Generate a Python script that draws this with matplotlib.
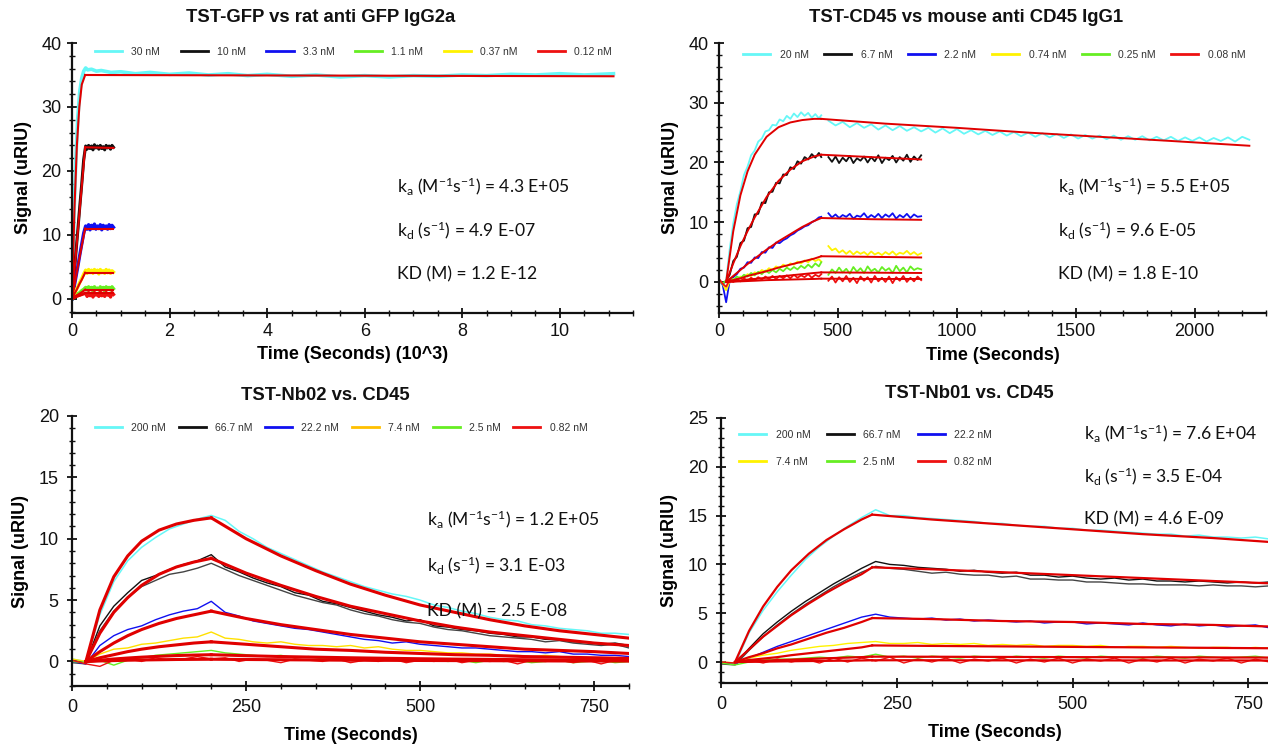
import numpy as np
import matplotlib
matplotlib.use("Agg")
import matplotlib.pyplot as plt
from matplotlib.ticker import MultipleLocator

plt.rcParams['font.family'] = ['Liberation Sans', 'DejaVu Sans']
plt.rcParams['mathtext.default'] = 'regular'

CYAN = '#66F7F7'; BLACK = '#111111'; BLUE = '#1010F0'; GREEN = '#66EE22'
YEL = '#FFF200'; RED = '#EE1111'; FIT = '#E00000'

# ---------------- Panel 1: TST-GFP vs rat anti GFP IgG2a (time in 10^3 s)
p1_labels = ['30 nM', '10 nM', '3.3 nM', '1.1 nM', '0.37 nM', '0.12 nM']
p1_t30 = [0, 0.04, 0.08, 0.12, 0.16, 0.2, 0.24, 0.28, 0.32, 0.4, 0.5, 0.6, 0.8, 1.0, 1.3, 1.6,
          2.0, 2.4, 2.8, 3.2, 3.6, 4.0, 4.5, 5.0, 5.5, 6.0, 6.5, 7.0, 7.5, 8.0, 8.5, 9.0, 9.5,
          10.0, 10.5, 11.1]
p1_d30 = [0, 13, 22, 28.5, 32.5, 34.5, 35.6, 36.1, 35.8, 35.9, 35.6, 35.7, 35.4, 35.5, 35.2, 35.4,
          35.1, 35.3, 35.0, 35.2, 34.9, 35.1, 34.8, 35.0, 34.7, 34.9, 34.7, 34.9, 34.8, 35.0, 34.9,
          35.1, 35.0, 35.2, 35.0, 35.2]
p1_t = [0, 0.04, 0.08, 0.12, 0.16, 0.2, 0.24, 0.28, 0.31, 0.34, 0.37, 0.40, 0.43, 0.46, 0.49,
        0.52, 0.55, 0.58, 0.61, 0.64, 0.67, 0.70, 0.73, 0.76, 0.79, 0.82, 0.85]
p1_d10 = [0, 3.5, 7.2, 10.8, 14.5, 18.0, 21.8, 23.9, 23.4, 24.0, 23.5, 23.9, 23.3, 24.1, 23.6,
          23.9, 23.4, 24.0, 23.5, 23.8, 23.3, 24.0, 23.6, 23.9, 23.4, 24.0, 23.7]
p1_d3 = [0, 1.7, 3.4, 5.1, 6.9, 8.6, 10.3, 11.4, 10.9, 11.6, 10.8, 11.5, 11.0, 11.7, 10.9,
         11.4, 11.0, 11.6, 10.8, 11.5, 11.1, 11.4, 10.9, 11.6, 11.0, 11.5, 11.2]
p1_d11 = [0, 0.3, 0.5, 0.8, 1.0, 1.3, 1.5, 1.8, 1.4, 1.9, 1.5, 1.8, 1.3, 1.9, 1.5,
          1.7, 1.4, 1.9, 1.5, 1.8, 1.3, 1.9, 1.6, 1.8, 1.4, 1.9, 1.6]
p1_d037 = [0, 0.6, 1.3, 1.9, 2.6, 3.2, 3.9, 4.5, 4.0, 4.6, 4.1, 4.5, 4.0, 4.6, 4.2,
           4.5, 3.9, 4.6, 4.1, 4.4, 4.0, 4.6, 4.1, 4.5, 4.0, 4.4, 4.2]
p1_d012 = [0, 0.2, 0.4, 0.5, 0.6, 0.7, 0.8, 0.9, 0.4, 1.0, 0.5, 0.9, 0.3, 1.0, 0.6,
           0.8, 0.4, 1.1, 0.5, 0.9, 0.4, 1.0, 0.6, 0.8, 0.3, 1.0, 0.7]
p1_tfa = [0, 0.05, 0.1, 0.15, 0.2, 0.27]
p1_fa = [[0, 14, 24, 30, 33.5, 35], [0, 4.4, 8.8, 13.2, 17.6, 23.7], [0, 2.1, 4.2, 6.3, 8.3, 11.0],
         [0, 0.3, 0.55, 0.8, 1.05, 1.45], [0, 0.8, 1.5, 2.3, 3.0, 4.1], [0, 0.2, 0.35, 0.5, 0.65, 0.9]]
p1_tfd_long = [0.27, 11.1]
p1_f30d = [35, 34.8]
p1_tfd = [0.27, 0.85]
p1_fd = [[23.7, 23.6], [11.0, 11.0], [1.45, 1.45], [4.1, 4.1], [0.9, 0.9]]

# ---------------- Panel 2: TST-CD45 vs mouse anti CD45 IgG1
p2_labels = ['20 nM', '6.7 nM', '2.2 nM', '0.74 nM', '0.25 nM', '0.08 nM']
p2_ta = list(range(0, 421, 15)) + [430]
p2_td = list(range(460, 851, 15))
p2_tdc = list(range(460, 2231, 30))
p2_a20 = [0.3, -0.5, 0.2, 5.5, 9.8, 13.0, 15.2, 17.9, 19.3, 21.2, 22.0, 23.5, 24.0, 25.2, 25.4,
          26.3, 26.2, 27.2, 26.9, 27.8, 27.3, 28.2, 27.6, 28.4, 27.8, 28.3, 27.5, 28.1, 27.4, 27.9]
p2_d20 = [27.0, 26.2, 26.8, 25.9, 26.6, 25.8, 26.4, 25.5, 26.2, 25.4, 26.1, 25.3, 25.9, 25.2, 25.8,
          25.0, 25.7, 24.9, 25.6, 24.8, 25.4, 24.7, 25.3, 24.6, 25.2, 24.5, 25.1, 24.4, 25.0, 24.3,
          24.9, 24.2, 24.8, 24.1, 24.7, 24.0, 24.6, 24.0, 24.5, 23.9, 24.5, 23.8, 24.4, 23.8, 24.4,
          23.7, 24.3, 23.7, 24.3, 23.6, 24.2, 23.6, 24.2, 23.5, 24.1, 23.6, 24.2, 23.5, 24.3, 23.8]
p2_a67 = [0.4, -0.3, 0.2, 1.2, 3.5, 4.2, 6.5, 6.9, 9.0, 9.2, 11.3, 11.4, 13.3, 13.2, 15.0,
          15.1, 16.6, 16.5, 18.0, 17.9, 19.2, 18.9, 20.2, 19.8, 20.9, 20.5, 21.4, 20.8, 21.6, 20.9]
p2_d67 = [20.9, 20.1, 21.0, 19.9, 20.8, 20.2, 21.1, 19.9, 20.7, 20.3, 21.0, 20.0, 20.9, 20.2,
          21.2, 19.9, 20.8, 20.4, 21.1, 20.0, 20.9, 20.3, 21.3, 20.1, 21.0, 20.4, 21.2]
p2_a22 = [0.3, -0.4, -3.4, 0.2, 0.8, 1.3, 2.2, 2.4, 3.3, 3.2, 4.1, 4.0, 5.0, 4.9, 5.8,
          5.7, 6.6, 6.5, 7.0, 7.3, 7.8, 8.1, 8.6, 8.9, 9.3, 9.5, 10.0, 10.3, 10.8, 10.9]
p2_d22 = [11.5, 10.8, 11.3, 10.7, 11.2, 10.9, 11.4, 10.6, 11.1, 10.9, 11.5, 10.7, 11.2, 10.8,
          11.4, 10.7, 11.3, 10.9, 11.5, 10.6, 11.2, 10.8, 11.4, 10.7, 11.3, 10.9, 11.0]
p2_a074 = [0.2, -0.3, -1.4, 0.1, 0.5, 0.3, 0.9, 0.7, 1.3, 1.0, 1.6, 1.4, 2.0, 1.7, 2.3,
           2.0, 2.6, 2.3, 2.9, 2.6, 3.1, 2.9, 3.4, 3.1, 3.6, 3.3, 3.9, 3.5, 3.8, 3.4]
p2_d074 = [6.0, 5.3, 5.6, 4.9, 5.3, 4.7, 5.2, 4.6, 5.1, 4.7, 5.0, 4.5, 5.1, 4.6, 4.9, 4.5, 5.0,
           4.6, 5.1, 4.5, 4.9, 4.7, 5.2, 4.6, 5.0, 4.5, 4.8]
p2_a025 = [0.3, -0.2, 0.2, 0.5, 0.3, 0.9, 0.6, 1.2, 0.9, 1.5, 1.1, 1.7, 1.3, 1.9, 1.5,
           2.0, 1.6, 2.2, 1.8, 2.4, 2.0, 2.5, 2.1, 2.7, 2.3, 2.9, 2.4, 3.1, 2.6, 3.3]
p2_d025 = [1.2, 2.1, 1.5, 2.4, 1.6, 2.2, 1.4, 2.5, 1.7, 2.3, 1.5, 2.6, 1.8, 2.2, 1.6, 2.5, 1.9,
           2.3, 1.5, 2.7, 1.8, 2.4, 1.6, 2.6, 2.0, 2.3, 2.1]
p2_a008 = [0.5, -0.3, -0.8, 0.4, 0.0, 0.5, 0.1, 0.6, 0.2, 0.7, 0.3, 0.8, 0.4, 0.9, 0.5,
           1.0, 0.5, 1.0, 0.6, 1.1, 0.6, 1.2, 0.7, 1.1, 0.8, 1.3, 0.7, 1.2, 0.9, 1.3]
p2_d008 = [0.2, 0.9, -0.1, 0.8, 0.1, 1.0, 0.0, 0.7, -0.2, 0.9, 0.2, 0.8, -0.1, 1.0, 0.1, 0.7,
           0.0, 0.9, -0.2, 0.8, 0.2, 1.0, 0.0, 0.7, 0.1, 0.9, 0.3]
p2_tfa = [30, 60, 90, 120, 150, 200, 250, 300, 350, 400, 430]
p2_fa = [[0, 8.5, 14.5, 18.5, 21.3, 24.3, 25.9, 26.7, 27.1, 27.3, 27.3],
         [0, 3.1, 6.0, 8.5, 10.8, 14.2, 16.9, 18.8, 20.2, 21.0, 21.3],
         [0, 1.0, 2.0, 3.0, 3.9, 5.4, 6.8, 8.0, 9.2, 10.2, 10.7],
         [0, 0.3, 0.6, 1.0, 1.3, 1.8, 2.4, 2.9, 3.4, 3.9, 4.3],
         [0, 0.1, 0.2, 0.4, 0.5, 0.7, 0.9, 1.1, 1.3, 1.5, 1.6],
         [0, 0.05, 0.1, 0.15, 0.2, 0.3, 0.35, 0.4, 0.45, 0.5, 0.55]]
p2_tfd_long = [430, 700, 1000, 1300, 1600, 1900, 2230]
p2_f20d = [27.3, 26.5, 25.8, 25.0, 24.3, 23.6, 22.8]
p2_tfd = [430, 640, 850]
p2_fd = [[21.3, 20.9, 20.5], [10.7, 10.5, 10.4], [4.3, 4.2, 4.1], [1.6, 1.55, 1.5], [0.55, 0.5, 0.5]]

# ---------------- Panel 3: TST-Nb02 vs. CD45
p3_labels = ['200 nM', '66.7 nM', '22.2 nM', '7.4 nM', '2.5 nM', '0.82 nM']
p3_t = list(range(0, 801, 20))
p3_d200 = [0.2, 0.0, 3.8, 6.5, 8.2, 9.3, 10.1, 10.8, 11.2, 11.6, 11.9, 11.5, 10.6, 10.0, 9.3, 8.8,
           8.3, 7.8, 7.3, 6.9, 6.5, 6.1, 5.8, 5.5, 5.3, 5.0, 4.6, 4.4, 4.1, 3.9, 3.6, 3.4, 3.3,
           3.0, 2.9, 2.7, 2.6, 2.5, 2.3, 2.3, 2.2]
p3_d67a = [0.1, -0.1, 2.9, 4.5, 5.6, 6.6, 7.0, 7.5, 7.9, 8.2, 8.7, 7.7, 7.3, 6.8, 6.4, 6.1, 5.6,
           5.4, 4.9, 4.7, 4.4, 4.1, 3.8, 3.6, 3.3, 3.4, 2.9, 2.8, 2.6, 2.5, 2.3, 2.2, 2.0, 2.0,
           1.8, 1.8, 1.6, 1.6, 1.4, 1.5, 1.3]
p3_d67b = [-0.1, -0.2, 2.5, 4.1, 5.2, 6.1, 6.6, 7.1, 7.3, 7.6, 8.0, 7.5, 7.0, 6.6, 6.2, 5.8, 5.4,
           5.1, 4.8, 4.6, 4.2, 3.9, 3.7, 3.4, 3.2, 3.1, 2.8, 2.6, 2.5, 2.3, 2.1, 2.0, 1.9, 1.8,
           1.6, 1.7, 1.5, 1.4, 1.3, 1.4, 1.1]
p3_d22 = [0.0, -0.2, 1.3, 2.1, 2.6, 2.9, 3.4, 3.8, 4.1, 4.3, 4.9, 4.0, 3.7, 3.3, 3.1, 2.9, 2.7,
          2.6, 2.4, 2.2, 2.0, 1.8, 1.7, 1.5, 1.6, 1.4, 1.3, 1.2, 1.1, 1.1, 1.0, 0.9, 0.8, 0.8,
          0.7, 0.8, 0.6, 0.6, 0.5, 0.5, 0.4]
p3_d74 = [0.2, 0.0, 0.6, 1.0, 1.1, 1.4, 1.5, 1.7, 1.9, 2.0, 2.4, 1.9, 1.8, 1.6, 1.5, 1.6, 1.4,
          1.3, 1.3, 1.2, 1.3, 1.1, 1.2, 1.0, 0.9, 0.9, 0.8, 0.7, 0.7, 0.6, 0.6, 0.5, 0.5, 0.4,
          0.5, 0.4, 0.3, 0.3, 0.3, 0.2, 0.2]
p3_d25 = [0.0, -0.1, 0.1, -0.3, 0.1, 0.3, 0.5, 0.6, 0.7, 0.8, 0.9, 0.7, 0.6, 0.5, 0.4, 0.5, 0.3,
          0.4, 0.2, 0.3, 0.2, 0.3, 0.1, 0.2, 0.0, 0.2, 0.1, 0.0, 0.1, -0.1, 0.1, 0.0, 0.1, -0.1,
          0.0, 0.1, -0.1, 0.0, 0.1, -0.1, 0.0]
p3_d082 = [0.1, -0.2, -0.4, 0.1, 0.2, 0.0, 0.3, 0.1, 0.2, 0.4, 0.2, 0.3, 0.0, 0.2, 0.1, -0.1, 0.2,
           0.1, 0.0, 0.2, -0.1, 0.1, 0.0, 0.2, -0.1, 0.1, 0.0, 0.2, -0.1, 0.1, 0.0, 0.1, -0.2,
           0.1, 0.0, 0.1, -0.1, 0.1, -0.2, 0.1, 0.0]
p3_tfa = [20, 40, 60, 80, 100, 125, 150, 175, 200]
p3_fa = [[0, 4.2, 6.9, 8.6, 9.8, 10.7, 11.2, 11.5, 11.7],
         [0, 2.3, 4.0, 5.2, 6.2, 7.1, 7.7, 8.1, 8.4],
         [0, 0.8, 1.5, 2.1, 2.6, 3.1, 3.5, 3.8, 4.1],
         [0, 0.3, 0.55, 0.8, 1.0, 1.2, 1.35, 1.5, 1.6],
         [0, 0.1, 0.2, 0.28, 0.35, 0.42, 0.48, 0.52, 0.55],
         [0, 0.04, 0.07, 0.1, 0.12, 0.14, 0.16, 0.17, 0.18]]
p3_tfd = [200, 250, 300, 350, 400, 450, 500, 550, 600, 650, 700, 750, 800]
p3_fd = [[11.7, 10.0, 8.6, 7.4, 6.3, 5.4, 4.6, 4.0, 3.4, 2.9, 2.5, 2.2, 1.9],
         [8.4, 7.2, 6.2, 5.3, 4.5, 3.9, 3.3, 2.8, 2.4, 2.1, 1.8, 1.5, 1.3],
         [4.1, 3.5, 3.0, 2.6, 2.2, 1.9, 1.6, 1.4, 1.2, 1.0, 0.9, 0.8, 0.65],
         [1.6, 1.4, 1.2, 1.0, 0.9, 0.75, 0.65, 0.55, 0.5, 0.4, 0.35, 0.3, 0.25],
         [0.55, 0.47, 0.4, 0.35, 0.3, 0.26, 0.22, 0.19, 0.17, 0.14, 0.12, 0.1, 0.09],
         [0.18, 0.16, 0.14, 0.12, 0.1, 0.09, 0.08, 0.07, 0.06, 0.05, 0.04, 0.035, 0.03]]

# ---------------- Panel 4: TST-Nb01 vs. CD45
p4_labels = ['200 nM', '66.7 nM', '22.2 nM', '7.4 nM', '2.5 nM', '0.82 nM']
p4_t = list(range(0, 801, 20))
p4_d200 = [0.0, -0.2, 3.0, 5.3, 7.2, 8.9, 10.5, 11.8, 12.9, 13.9, 14.8, 15.6, 15.0, 15.0, 14.8,
           14.7, 14.6, 14.5, 14.4, 14.2, 14.2, 14.0, 13.9, 13.9, 13.7, 13.7, 13.5, 13.5, 13.4,
           13.3, 13.2, 13.1, 13.1, 12.9, 13.0, 12.8, 12.8, 12.7, 12.8, 12.6, 12.6]
p4_d67a = [-0.1, -0.2, 1.4, 2.9, 4.1, 5.2, 6.2, 7.1, 8.0, 8.8, 9.6, 10.3, 10.0, 9.9, 9.7, 9.6,
           9.5, 9.3, 9.4, 9.2, 9.1, 9.2, 8.9, 8.9, 8.7, 8.8, 8.6, 8.5, 8.6, 8.4, 8.5, 8.3, 8.3,
           8.2, 8.3, 8.2, 8.1, 8.2, 8.1, 8.2, 8.0]
p4_d67b = [-0.2, -0.3, 1.2, 2.6, 3.8, 4.9, 5.9, 6.8, 7.7, 8.5, 9.2, 9.8, 9.6, 9.5, 9.3, 9.1,
           9.2, 9.0, 8.9, 8.9, 8.7, 8.8, 8.5, 8.5, 8.4, 8.4, 8.2, 8.2, 8.1, 8.0, 8.0, 7.9, 7.9,
           7.9, 7.8, 7.9, 7.8, 7.8, 7.7, 7.8, 7.7]
p4_d22 = [0.0, -0.2, 0.4, 1.0, 1.6, 2.1, 2.6, 3.1, 3.6, 4.1, 4.6, 4.9, 4.6, 4.5, 4.4, 4.5, 4.3,
          4.4, 4.2, 4.3, 4.2, 4.1, 4.2, 4.0, 4.1, 4.1, 3.9, 4.0, 3.9, 3.8, 4.0, 3.8, 3.7, 3.9,
          3.7, 3.8, 3.6, 3.7, 3.8, 3.5, 3.6]
p4_d74 = [0.0, -0.1, 0.4, 0.7, 0.9, 1.2, 1.4, 1.6, 1.7, 1.9, 2.0, 2.1, 1.9, 1.9, 2.0, 1.8, 1.9,
          1.8, 1.9, 1.7, 1.8, 1.7, 1.8, 1.6, 1.7, 1.7, 1.6, 1.7, 1.5, 1.6, 1.6, 1.5, 1.6, 1.5,
          1.4, 1.5, 1.5, 1.4, 1.5, 1.4, 1.4]
p4_d25 = [-0.1, -0.3, 0.0, 0.2, 0.3, 0.3, 0.4, 0.5, 0.4, 0.6, 0.5, 0.8, 0.5, 0.6, 0.4, 0.6, 0.5,
          0.4, 0.6, 0.5, 0.4, 0.6, 0.5, 0.4, 0.6, 0.5, 0.4, 0.6, 0.5, 0.5, 0.4, 0.6, 0.5, 0.4,
          0.6, 0.5, 0.4, 0.5, 0.6, 0.4, 0.5]
p4_d082 = [0.0, -0.1, 0.2, -0.1, 0.3, 0.0, 0.3, -0.1, 0.4, 0.0, 0.4, 0.1, 0.5, -0.1, 0.3, 0.0,
           0.4, -0.1, 0.3, 0.1, 0.4, -0.1, 0.3, 0.0, 0.4, -0.1, 0.3, 0.1, 0.4, -0.1, 0.3, 0.0,
           0.4, -0.1, 0.3, 0.1, 0.4, -0.1, 0.3, 0.0, 0.3]
p4_tfa = [20, 40, 60, 80, 100, 125, 150, 175, 200, 215]
p4_fa = [[0, 3.2, 5.7, 7.7, 9.4, 11.1, 12.5, 13.6, 14.6, 15.1],
         [0, 1.3, 2.6, 3.7, 4.8, 6.0, 7.1, 8.1, 9.0, 9.7],
         [0, 0.5, 0.9, 1.4, 1.8, 2.4, 3.0, 3.5, 4.1, 4.5],
         [0, 0.2, 0.35, 0.5, 0.7, 0.9, 1.1, 1.3, 1.5, 1.7],
         [0, 0.06, 0.12, 0.18, 0.24, 0.31, 0.38, 0.44, 0.5, 0.55],
         [0, 0.02, 0.04, 0.06, 0.08, 0.1, 0.12, 0.14, 0.16, 0.18]]
p4_tfd = [215, 300, 400, 500, 600, 700, 800]
p4_fd = [[15.1, 14.6, 14.1, 13.6, 13.1, 12.7, 12.2],
         [9.7, 9.5, 9.2, 8.9, 8.6, 8.3, 8.0],
         [4.5, 4.4, 4.2, 4.1, 3.9, 3.8, 3.6],
         [1.7, 1.65, 1.6, 1.55, 1.5, 1.45, 1.4],
         [0.55, 0.54, 0.52, 0.5, 0.48, 0.47, 0.45],
         [0.18, 0.18, 0.17, 0.17, 0.16, 0.16, 0.15]]

# ---------------- kinetic constants text
kin = {
    'p1': ('4.3 E+05', '4.9 E-07', '1.2 E-12'),
    'p2': ('5.5 E+05', '9.6 E-05', '1.8 E-10'),
    'p3': ('1.2 E+05', '3.1 E-03', '2.5 E-08'),
    'p4': ('7.6 E+04', '3.5 E-04', '4.6 E-09'),
}

W, H = 1268, 746
fig = plt.figure(figsize=(W / 100, H / 100), dpi=100)


def ax_at(l, t, r, b):
    return fig.add_axes([l / W, 1 - b / H, (r - l) / W, (b - t) / H])


def style(ax, xmaj, xmin, ymaj, ymin, pad=6):
    for s in ['top', 'right']:
        ax.spines[s].set_visible(False)
    for s in ['left', 'bottom']:
        ax.spines[s].set_linewidth(1.6)
        ax.spines[s].set_color('#111111')
    ax.xaxis.set_major_locator(MultipleLocator(xmaj))
    ax.xaxis.set_minor_locator(MultipleLocator(xmin))
    ax.yaxis.set_major_locator(MultipleLocator(ymaj))
    ax.yaxis.set_minor_locator(MultipleLocator(ymin))
    ax.tick_params(which='major', direction='inout', length=7, width=1.3, labelsize=13,
                   colors='#111111', pad=pad)
    ax.tick_params(which='minor', direction='inout', length=4, width=1.0, colors='#111111')
    ax.set_ylabel('Signal (uRIU)', fontsize=13, fontweight='bold', labelpad=7)


def kin_text(x, y0, dy, vals):
    kw = dict(fontsize=12.6, family=['Lato', 'DejaVu Sans'], color='#111111', va='center')
    fig.text(x / W, 1 - y0 / H, r'k$_{a}$ (M$^{-1}$s$^{-1}$) = ' + vals[0], **kw)
    fig.text(x / W, 1 - (y0 + dy) / H, r'k$_{d}$ (s$^{-1}$) = ' + vals[1], **kw)
    fig.text(x / W, 1 - (y0 + 2 * dy) / H, 'KD (M) = ' + vals[2], **kw)


def title(x, y, s):
    fig.text(x / W, 1 - y / H, s, fontsize=13.3, fontweight='bold', ha='center', va='center',
             color='#111111')


def legend(ax, handles, labels, ncol, anchor, colsp, lsp=0.5):
    ax.legend(handles, labels, ncol=ncol, loc='upper left', bbox_to_anchor=anchor, frameon=False,
              fontsize=7.5, handlelength=2.6, handletextpad=0.9, columnspacing=colsp,
              borderaxespad=0, borderpad=0, labelcolor='#333333', labelspacing=lsp)

# ---- Panel 1
ax1 = ax_at(72, 43, 633, 313)
style(ax1, 2, 0.5, 10, 2, pad=4)
ax1.set_xlim(0, 11.5)
ax1.set_ylim(-2.2, 40)
h = []
h += ax1.plot(p1_t30, p1_d30, color=CYAN, lw=2.6)
h += ax1.plot(p1_t, p1_d10, color=BLACK, lw=2.2)
h += ax1.plot(p1_t, p1_d3, color=BLUE, lw=2.4)
h += ax1.plot(p1_t, p1_d11, color=GREEN, lw=2.4)
h += ax1.plot(p1_t, p1_d037, color=YEL, lw=2.4)
h += ax1.plot(p1_t, p1_d012, color=RED, lw=2.4)
for f in p1_fa:
    ax1.plot(p1_tfa, f, color=FIT, lw=1.5)
ax1.plot(p1_tfd_long, p1_f30d, color=FIT, lw=1.5)
for f in p1_fd:
    ax1.plot(p1_tfd, f, color=FIT, lw=1.5)
hl = [plt.Line2D([], [], color=l.get_color(), lw=2) for l in h]
legend(ax1, hl, p1_labels, 6, (0.041, 0.985), 1.95)
ax1.set_xlabel('Time (Seconds) (10^3)', fontsize=13, fontweight='bold', labelpad=4)
title(321, 18, 'TST-GFP vs rat anti GFP IgG2a')
kin_text(397, 186, 44, kin['p1'])

# ---- Panel 2
ax2 = ax_at(719, 43, 1266, 313)
style(ax2, 500, 100, 10, 2, pad=4)
ax2.set_xlim(0, 2300)
ax2.set_ylim(-5.2, 40)
h = []
h += ax2.plot(p2_ta, p2_a20, color=CYAN, lw=1.3)
ax2.plot(p2_tdc, p2_d20, color=CYAN, lw=1.3)
for a, d, c in [(p2_a67, p2_d67, BLACK), (p2_a22, p2_d22, BLUE), (p2_a074, p2_d074, YEL),
                (p2_a025, p2_d025, GREEN), (p2_a008, p2_d008, RED)]:
    h += ax2.plot(p2_ta, a, color=c, lw=1.3)
    ax2.plot(p2_td, d, color=c, lw=1.3)
for f in p2_fa:
    ax2.plot(p2_tfa, f, color=FIT, lw=1.4)
ax2.plot(p2_tfd_long, p2_f20d, color=FIT, lw=1.4)
for f in p2_fd:
    ax2.plot(p2_tfd, f, color=FIT, lw=1.4)
hl = [plt.Line2D([], [], color=l.get_color(), lw=2) for l in h]
legend(ax2, hl, p2_labels, 6, (0.044, 0.975), 1.5)
ax2.set_xlabel('Time (Seconds)', fontsize=13, fontweight='bold', labelpad=5)
title(966, 18, 'TST-CD45 vs mouse anti CD45 IgG1')
kin_text(1058, 186, 44, kin['p2'])

# ---- Panel 3
ax3 = ax_at(72, 416, 629, 686)
style(ax3, 250, 50, 5, 1)
ax3.set_xlim(0, 800)
ax3.set_ylim(-2, 20)
YEL3 = '#FFE000'
h = []
h += ax3.plot(p3_t, p3_d200, color=CYAN, lw=1.1)
h += ax3.plot(p3_t, p3_d67a, color=BLACK, lw=1.0)
ax3.plot(p3_t, p3_d67b, color='#444444', lw=1.0)
h += ax3.plot(p3_t, p3_d22, color=BLUE, lw=1.0)
h += ax3.plot(p3_t, p3_d74, color=YEL3, lw=1.0)
h += ax3.plot(p3_t, p3_d25, color=GREEN, lw=1.0)
h += ax3.plot(p3_t, p3_d082, color=RED, lw=1.0)
for fa, fd in zip(p3_fa, p3_fd):
    ax3.plot(p3_tfa, fa, color=FIT, lw=2.2)
    ax3.plot(p3_tfd, fd, color=FIT, lw=2.2)
hl = [plt.Line2D([], [], color=c, lw=2) for c in [CYAN, BLACK, BLUE, '#FFC000', GREEN, RED]]
legend(ax3, hl, p3_labels, 6, (0.041, 0.975), 1.2)
ax3.set_xlabel('Time (Seconds)', fontsize=13, fontweight='bold', labelpad=8)
title(325, 396, 'TST-Nb02 vs. CD45')
kin_text(427, 519, 46, kin['p3'])

# ---- Panel 4
ax4 = ax_at(721, 418, 1268, 683)
style(ax4, 250, 50, 5, 1)
ax4.set_xlim(0, 778)
ax4.set_ylim(-2.15, 25)
h = []
h += ax4.plot(p4_t, p4_d200, color=CYAN, lw=1.1)
h += ax4.plot(p4_t, p4_d67a, color=BLACK, lw=1.0)
ax4.plot(p4_t, p4_d67b, color='#444444', lw=1.0)
h += ax4.plot(p4_t, p4_d22, color=BLUE, lw=1.0)
h += ax4.plot(p4_t, p4_d74, color=YEL, lw=1.0)
h += ax4.plot(p4_t, p4_d25, color=GREEN, lw=1.0)
h += ax4.plot(p4_t, p4_d082, color=RED, lw=1.0)
for fa, fd in zip(p4_fa, p4_fd):
    ax4.plot(p4_tfa, fa, color=FIT, lw=1.6)
    ax4.plot(p4_tfd, fd, color=FIT, lw=1.6)
hl = [plt.Line2D([], [], color=l.get_color(), lw=2) for l in h]
order = [0, 3, 1, 4, 2, 5]  # row-wise filling of a 2 x 3 legend
legend(ax4, [hl[i] for i in order], [p4_labels[i] for i in order], 3, (0.033, 0.955), 1.6,
       lsp=1.6)
ax4.set_xlabel('Time (Seconds)', fontsize=13, fontweight='bold', labelpad=8)
title(969, 394, 'TST-Nb01 vs. CD45')
kin_text(1084, 433, 43, kin['p4'])

fig.savefig('out.png', dpi=100)
